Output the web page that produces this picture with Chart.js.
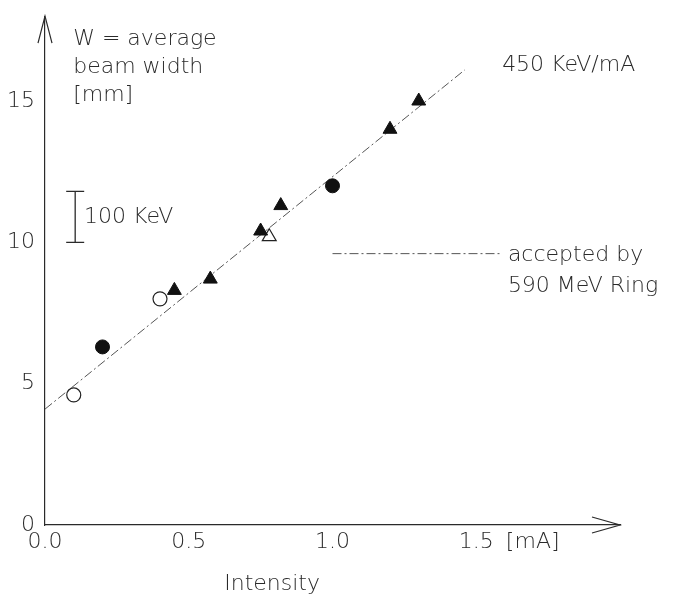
<!DOCTYPE html>
<html lang="en">
<head>
    <meta charset="UTF-8">
    <title>Beam width vs intensity</title>
    <script src="https://cdn.jsdelivr.net/npm/chart.js"></script>
    <style>
        body { margin: 0; background: #fff; }
    </style>
</head>
<body>
    <canvas id="beamChart" width="677" height="598"></canvas>
    <script>
        // measured points, x = intensity [mA], y = beam width [mm]
        const openCircleX = [0.1, 0.4];
        const openCircleY = [4.6, 8.0];
        const filledCircleX = [0.2, 1.0];
        const filledCircleY = [6.3, 12.0];
        const filledTriangleX = [0.45, 0.575, 0.75, 0.82, 1.2, 1.3];
        const filledTriangleY = [8.3, 8.7, 10.4, 11.3, 14.0, 15.0];
        const openTriangleX = [0.78];
        const openTriangleY = [10.2];

        // fitted line (450 KeV/mA) and ring acceptance
        const fitX = [0.0, 1.46];
        const fitY = [4.1, 16.1];
        const acceptX = [1.0, 1.59];
        const acceptY = [9.6, 9.6];

        // 100 KeV scale bar
        const barX = [0.105, 0.105];
        const barY = [10.0, 11.8];

        const xTicks = [0, 0.5, 1.0, 1.5];
        const yTicks = [0, 5, 10, 15];

        const pts = (xs, ys) => xs.map((v, i) => ({ x: v, y: ys[i] }));
        const ink = '#2a2a2a';
        const font = { family: 'DejaVu Sans', size: 22, weight: 200 };

        const notes = [
            { text: 'W = average', x: 0.098, y: 17.2 },
            { text: 'beam width', x: 0.098, y: 16.2 },
            { text: '[mm]', x: 0.098, y: 15.2 },
            { text: '100 KeV', x: 0.136, y: 10.9 },
            { text: '450 KeV/mA', x: 1.59, y: 16.25 },
            { text: 'accepted by', x: 1.61, y: 9.55 },
            { text: '590 MeV Ring', x: 1.61, y: 8.46 },
            { text: '[mA]', x: 1.603, y: -0.6 },
            { text: 'Intensity', x: 0.79, y: -2.1, align: 'center' }
        ];

        const extras = {
            id: 'extras',
            afterDraw(chart) {
                const { ctx, chartArea: a, scales: { x, y } } = chart;
                ctx.save();
                ctx.strokeStyle = ink;
                ctx.lineWidth = 1.2;
                ctx.beginPath();
                ctx.moveTo(a.left - 7, a.top + 27);
                ctx.lineTo(a.left, a.top);
                ctx.lineTo(a.left + 7, a.top + 27);
                ctx.moveTo(a.right - 28, a.bottom - 8);
                ctx.lineTo(a.right, a.bottom);
                ctx.lineTo(a.right - 28, a.bottom + 8);
                ctx.stroke();
                ctx.fillStyle = ink;
                ctx.font = '200 22px "DejaVu Sans"';
                ctx.textBaseline = 'middle';
                notes.forEach(n => {
                    ctx.textAlign = n.align || 'left';
                    ctx.fillText(n.text, x.getPixelForValue(n.x), y.getPixelForValue(n.y));
                });
                ctx.restore();
            }
        };

        new Chart(document.getElementById('beamChart'), {
            type: 'scatter',
            data: {
                datasets: [
                    { data: pts(filledTriangleX, filledTriangleY), pointStyle: 'triangle', pointRadius: 8,
                      backgroundColor: '#111', borderColor: '#111', borderWidth: 1, order: 1 },
                    { data: pts(openTriangleX, openTriangleY), pointStyle: 'triangle', pointRadius: 8,
                      backgroundColor: '#fff', borderColor: '#222', borderWidth: 1.2, order: 1 },
                    { data: pts(filledCircleX, filledCircleY), pointStyle: 'circle', pointRadius: 7,
                      backgroundColor: '#111', borderColor: '#111', borderWidth: 1, order: 1 },
                    { data: pts(openCircleX, openCircleY), pointStyle: 'circle', pointRadius: 7,
                      backgroundColor: '#fff', borderColor: '#222', borderWidth: 1.2, order: 1 },
                    { data: pts(fitX, fitY), showLine: true, pointRadius: 0, borderColor: '#555',
                      borderWidth: 1, borderDash: [9, 3, 2, 3], order: 2 },
                    { data: pts(acceptX, acceptY), showLine: true, pointRadius: 0, borderColor: '#555',
                      borderWidth: 1, borderDash: [9, 3, 2, 3], order: 2 },
                    { data: pts(barX, barY), showLine: true, pointStyle: 'line', pointRadius: 9,
                      borderColor: ink, backgroundColor: ink, borderWidth: 1.3, order: 2 }
                ]
            },
            options: {
                responsive: false,
                animation: false,
                layout: { padding: { left: 0, right: 57, top: 10, bottom: 0 } },
                plugins: { legend: { display: false }, tooltip: { enabled: false } },
                scales: {
                    x: {
                        type: 'linear', min: 0, max: 2,
                        afterBuildTicks: s => { s.ticks = xTicks.map(v => ({ value: v })); },
                        afterFit: s => { s.height = 73; },
                        grid: { display: false, drawTicks: true, tickLength: 6, tickColor: ink },
                        border: { color: ink, width: 1.2 },
                        ticks: { color: ink, font: font, padding: -2, maxRotation: 0,
                                 callback: v => v.toFixed(1) }
                    },
                    y: {
                        type: 'linear', min: 0, max: 18,
                        afterBuildTicks: s => { s.ticks = yTicks.map(v => ({ value: v })); },
                        afterFit: s => { s.width = 45; },
                        grid: { display: false, drawTicks: true, tickLength: 7, tickColor: ink },
                        border: { color: ink, width: 1.2 },
                        ticks: { color: ink, font: font, padding: 3 }
                    }
                }
            },
            plugins: [extras]
        });
    </script>
</body>
</html>
